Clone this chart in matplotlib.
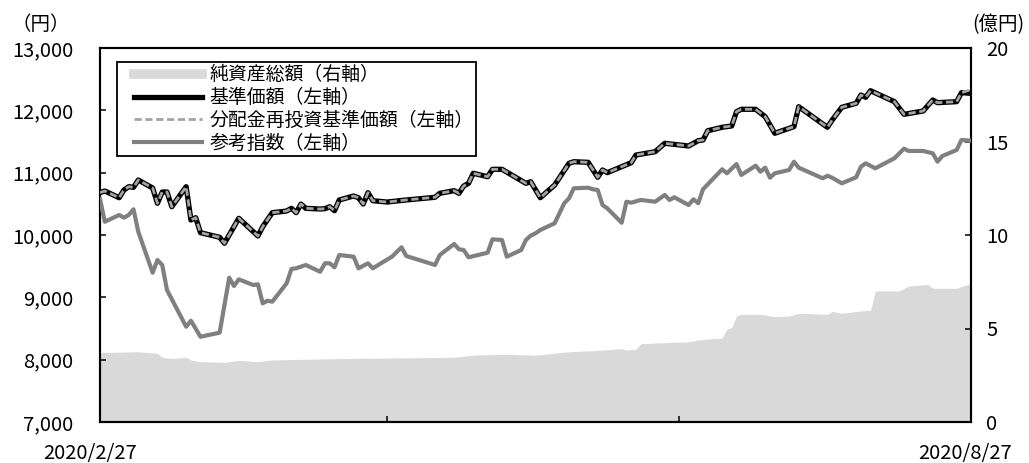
import matplotlib
matplotlib.use("Agg")
import matplotlib.pyplot as plt
from matplotlib.lines import Line2D
from matplotlib.legend_handler import HandlerLine2D
from matplotlib.ticker import FuncFormatter, FixedLocator
import pandas as pd

plt.rcParams['font.family'] = ['Noto Sans CJK JP', 'DejaVu Sans']

# ---------------- data ----------------
nav_dates = [
    "2020-02-27", "2020-02-28",
    "2020-03-02", "2020-03-03", "2020-03-04", "2020-03-05", "2020-03-06", "2020-03-09",
    "2020-03-10", "2020-03-11", "2020-03-12", "2020-03-13", "2020-03-16", "2020-03-17",
    "2020-03-18", "2020-03-19", "2020-03-23", "2020-03-24", "2020-03-27", "2020-03-31",
    "2020-04-01", "2020-04-03", "2020-04-06", "2020-04-07", "2020-04-08", "2020-04-09",
    "2020-04-10", "2020-04-13", "2020-04-14", "2020-04-15", "2020-04-16", "2020-04-17",
    "2020-04-20", "2020-04-21", "2020-04-22", "2020-04-23", "2020-04-24", "2020-04-27",
    "2020-05-01", "2020-05-07", "2020-05-08", "2020-05-11", "2020-05-12", "2020-05-13",
    "2020-05-14", "2020-05-15", "2020-05-18", "2020-05-19", "2020-05-21", "2020-05-26",
    "2020-05-27", "2020-05-29",
    "2020-06-01", "2020-06-04", "2020-06-05", "2020-06-08", "2020-06-10", "2020-06-11",
    "2020-06-12", "2020-06-17", "2020-06-18", "2020-06-22", "2020-06-24", "2020-06-29",
    "2020-07-01", "2020-07-02", "2020-07-03", "2020-07-06", "2020-07-08", "2020-07-09",
    "2020-07-10", "2020-07-13", "2020-07-15", "2020-07-17", "2020-07-21", "2020-07-22",
    "2020-07-28", "2020-07-29", "2020-07-31",
    "2020-08-03", "2020-08-04", "2020-08-05", "2020-08-06", "2020-08-11", "2020-08-13",
    "2020-08-17", "2020-08-19", "2020-08-20", "2020-08-24", "2020-08-25", "2020-08-27",
]
nav = [
    10680, 10706,
    10598, 10722, 10775, 10765, 10882, 10754,
    10509, 10690, 10690, 10454, 10775, 10241,
    10278, 10037, 9963, 9867, 10268, 9984,
    10133, 10358, 10385, 10428, 10358, 10497,
    10428, 10417, 10422, 10454, 10390, 10562,
    10626, 10598, 10497, 10679, 10550, 10529,
    10562, 10605, 10669, 10711, 10669, 10786,
    10829, 10990, 10935, 11054, 11054, 10829,
    10855, 10598,
    10802, 11150, 11176, 11166, 10926, 11043,
    11000, 11160, 11283, 11336, 11471, 11428,
    11513, 11524, 11673, 11728, 11749, 11978,
    12017, 12017, 11898, 11632, 11738, 12058,
    11728, 11845, 12049,
    12113, 12246, 12209, 12315, 12139, 11936,
    11989, 12166, 12123, 12139, 12283, 12273,
]
# distribution-reinvested NAV (same as NAV except final day)
reinvest_nav = nav[:-1] + [12330]

index_dates = [
    "2020-02-27", "2020-02-28",
    "2020-03-02", "2020-03-03", "2020-03-04", "2020-03-05", "2020-03-06", "2020-03-09",
    "2020-03-10", "2020-03-11", "2020-03-12", "2020-03-16", "2020-03-17", "2020-03-19",
    "2020-03-23", "2020-03-25", "2020-03-26", "2020-03-27", "2020-03-30", "2020-03-31",
    "2020-04-01", "2020-04-02", "2020-04-03", "2020-04-06", "2020-04-07", "2020-04-08",
    "2020-04-10", "2020-04-13", "2020-04-14", "2020-04-15", "2020-04-16", "2020-04-17",
    "2020-04-20", "2020-04-21", "2020-04-23", "2020-04-24", "2020-04-28", "2020-04-30",
    "2020-05-01", "2020-05-07", "2020-05-08", "2020-05-11", "2020-05-12", "2020-05-13",
    "2020-05-14", "2020-05-18", "2020-05-19", "2020-05-21", "2020-05-22", "2020-05-25",
    "2020-05-26", "2020-05-27", "2020-05-28", "2020-05-29",
    "2020-06-01", "2020-06-03", "2020-06-04", "2020-06-05", "2020-06-08", "2020-06-09",
    "2020-06-10", "2020-06-11", "2020-06-12", "2020-06-15", "2020-06-16", "2020-06-17",
    "2020-06-19", "2020-06-22", "2020-06-24", "2020-06-25", "2020-06-26", "2020-06-29",
    "2020-06-30",
    "2020-07-01", "2020-07-02", "2020-07-06", "2020-07-07", "2020-07-09", "2020-07-10",
    "2020-07-13", "2020-07-14", "2020-07-15", "2020-07-16", "2020-07-17", "2020-07-20",
    "2020-07-21", "2020-07-22", "2020-07-27", "2020-07-28", "2020-07-29", "2020-07-31",
    "2020-08-03", "2020-08-04", "2020-08-05", "2020-08-07", "2020-08-11", "2020-08-13",
    "2020-08-14", "2020-08-17", "2020-08-19", "2020-08-20", "2020-08-21", "2020-08-24",
    "2020-08-25", "2020-08-27",
]
index_values = [
    10580, 10213,
    10321, 10278, 10321, 10412, 10053, 9395,
    9599, 9519, 9118, 8529, 8625, 8368,
    8433, 9315, 9182, 9289, 9198, 9209,
    8904, 8946, 8930, 9225, 9455, 9466,
    9519, 9411, 9546, 9546, 9482, 9679,
    9652, 9466, 9546, 9466, 9652, 9803,
    9663, 9519, 9679, 9856, 9771, 9759,
    9642, 9716, 9931, 9920, 9652, 9759,
    9920, 9990, 10027, 10080,
    10188, 10509, 10589, 10749, 10759, 10733,
    10722, 10481, 10428, 10197, 10534, 10518,
    10562, 10534, 10642, 10562, 10605, 10481,
    10573,
    10509, 10733, 11054, 10990, 11139, 10963,
    11112, 11016, 11080, 10919, 10990, 11043,
    11176, 11080, 10910, 10951, 10919, 10829,
    10926, 11096, 11150, 11070, 11231, 11385,
    11348, 11348, 11311, 11176, 11267, 11364,
    11524, 11513,
]

asset_dates = [
    "2020-02-27",
    "2020-03-06", "2020-03-10", "2020-03-11", "2020-03-13", "2020-03-16", "2020-03-17",
    "2020-03-19", "2020-03-24", "2020-03-27", "2020-03-31",
    "2020-04-03", "2020-04-17", "2020-04-23",
    "2020-05-11", "2020-05-15", "2020-05-22", "2020-05-28",
    "2020-06-04", "2020-06-09", "2020-06-15", "2020-06-16", "2020-06-18", "2020-06-19",
    "2020-06-29",
    "2020-07-01", "2020-07-06", "2020-07-07", "2020-07-08", "2020-07-09", "2020-07-10",
    "2020-07-14", "2020-07-17", "2020-07-20", "2020-07-22", "2020-07-28", "2020-07-29",
    "2020-07-31",
    "2020-08-04", "2020-08-06", "2020-08-07", "2020-08-12", "2020-08-14", "2020-08-18",
    "2020-08-19", "2020-08-24", "2020-08-26", "2020-08-27",
]
net_assets = [
    3.71,
    3.76, 3.67, 3.46, 3.39, 3.46, 3.32,
    3.22, 3.19, 3.30, 3.22,
    3.32, 3.39, 3.41,
    3.46, 3.58, 3.62, 3.57,
    3.76, 3.81, 3.92, 3.85, 3.89, 4.19,
    4.29,
    4.39, 4.49, 4.96, 5.06, 5.67, 5.76,
    5.76, 5.63, 5.67, 5.81, 5.76, 5.92,
    5.81,
    5.94, 5.97, 7.01, 7.01, 7.27, 7.36,
    7.15, 7.15, 7.33, 7.36,
]

legend_labels = ["純資産総額（右軸）", "基準価額（左軸）",
                 "分配金再投資基準価額（左軸）", "参考指数（左軸）"]
x_start, x_end = "2020-02-27", "2020-08-27"
x_tick_dates = ["2020-02-27", "2020-04-27", "2020-06-27", "2020-08-27"]
left_ticks = [7000, 8000, 9000, 10000, 11000, 12000, 13000]
right_ticks = [0, 5, 10, 15, 20]

# ---------------- plot ----------------
W, H = 1029, 463
fig = plt.figure(figsize=(W / 100, H / 100), dpi=100)
ax = fig.add_axes([100 / W, (H - 422) / H, 871 / W, 374 / H])
ax2 = ax.twinx()

asset_x = pd.to_datetime(asset_dates)
nav_x = pd.to_datetime(nav_dates)
idx_x = pd.to_datetime(index_dates)

ax2.fill_between(asset_x, 0, net_assets, color='#d9d9d9', lw=0, zorder=1)
ax.set_zorder(ax2.get_zorder() + 1)
ax.patch.set_visible(False)

ax.plot(idx_x, index_values, color='#808080', lw=3.0, zorder=3)
ax.plot(nav_x, nav, color='black', lw=3.8, zorder=4)
ax.plot(nav_x, reinvest_nav, color='#a3a3a3', lw=2.0, dashes=(2.6, 1.3), zorder=5)

ax.set_xlim(pd.Timestamp(x_start), pd.Timestamp(x_end))
ax.set_ylim(left_ticks[0], left_ticks[-1])
ax2.set_ylim(right_ticks[0], right_ticks[-1])

ax.xaxis.set_major_locator(FixedLocator([matplotlib.dates.date2num(pd.Timestamp(d)) for d in x_tick_dates]))
ax.set_xticklabels([])
ax.set_yticks(left_ticks)
ax.yaxis.set_major_formatter(FuncFormatter(lambda v, p: f"{int(v):,}"))
ax2.set_yticks(right_ticks)
ax2.yaxis.set_major_formatter(FuncFormatter(lambda v, p: f"{int(v)}"))

for a in (ax, ax2):
    for s in a.spines.values():
        s.set_linewidth(1.5)
        s.set_color('black')

ax.tick_params(axis='y', direction='in', length=4.5, width=1.1, pad=19, labelsize=14.5)
ax.tick_params(axis='x', direction='in', length=4.5, width=1.1)
ax2.tick_params(axis='y', direction='in', length=4.5, width=1.1, pad=11, labelsize=14.5)

# axis unit labels
fig.text(41 / W, 1 - 25 / H, "（円）", ha='center', va='center', fontsize=14)
fig.text(998 / W, 1 - 25 / H, "(億円)", ha='center', va='center', fontsize=14)

# first / last date labels
fig.text(90 / W, 1 - 453 / H, pd.Timestamp(x_start).strftime("%Y/%-m/%-d"),
         ha='center', va='center', fontsize=14.5)
fig.text(965 / W, 1 - 453 / H, pd.Timestamp(x_end).strftime("%Y/%-m/%-d"),
         ha='center', va='center', fontsize=14.5)

handles = [
    Line2D([], [], color='#d9d9d9', lw=7),
    Line2D([], [], color='black', lw=3.8),
    Line2D([], [], color='#a3a3a3', lw=2.0, dashes=(2.6, 1.3)),
    Line2D([], [], color='#808080', lw=3.0),
]
leg = ax.legend(handles, legend_labels, loc='upper left',
                bbox_to_anchor=((117 - 100) / 871, (422 - 62) / 374),
                borderaxespad=0, frameon=True, fancybox=False, shadow=False,
                fontsize=13.6, handlelength=4.4, handletextpad=0.37,
                labelspacing=0.1, borderpad=0.12,
                handler_map={Line2D: HandlerLine2D(xpad=0.79)})
leg.get_frame().set_edgecolor('black')
leg.get_frame().set_linewidth(1.3)
leg.get_frame().set_alpha(1)

fig.savefig("out.png", dpi=100)
